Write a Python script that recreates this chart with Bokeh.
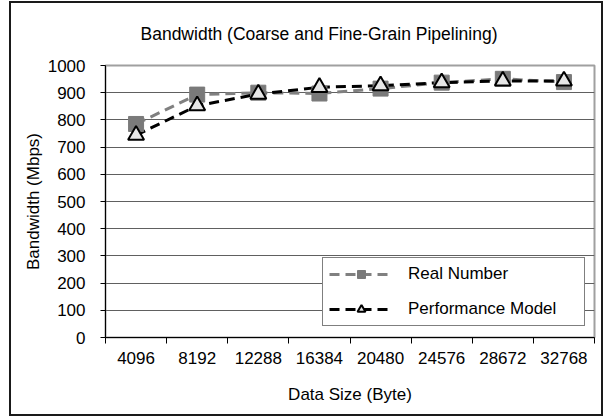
from bokeh.plotting import figure
from bokeh.models import FixedTicker, NumeralTickFormatter
from bokeh.embed import file_html
from bokeh.resources import INLINE

# ---- data ----
data_sizes = [4096, 8192, 12288, 16384, 20480, 24576, 28672, 32768]
real_number = [785, 893, 900, 897, 915, 937, 951, 939]
performance_model = [744, 852, 895, 920, 926, 937, 943, 943]
y_ticks = [0, 100, 200, 300, 400, 500, 600, 700, 800, 900, 1000]

title_text = "Bandwidth (Coarse and Fine-Grain Pipelining)"
x_label = "Data Size (Byte)"
y_label = "Bandwidth (Mbps)"

FONT = "Liberation Sans"
FS = "17px"

step = data_sizes[1] - data_sizes[0]
boundaries = [s - step / 2 for s in data_sizes] + [data_sizes[-1] + step / 2]

p = figure(width=594, height=415, output_backend="svg", toolbar_location=None,
           x_range=(boundaries[0], boundaries[-1]), y_range=(y_ticks[0], y_ticks[-1]),
           min_border_left=94, min_border_right=11, min_border_top=62,
           min_border_bottom=81, title=title_text)
p.margin = (1, 0, 0, 9)
p.styles = {"border": "2px solid #1a1a1a"}
p.background_fill_color = "white"
p.border_fill_color = "white"

p.title.align = "left"
p.title.vertical_align = "top"
p.title.offset = 35
p.title.standoff = 40
p.title.text_font = FONT
p.title.text_font_size = "17.5px"
p.title.text_font_style = "normal"
p.title.text_color = "black"

p.outline_line_color = "#a0a0a0"
p.outline_line_width = 2

# x axis
xa = p.xaxis[0]
xa.ticker = FixedTicker(ticks=data_sizes, minor_ticks=boundaries)
xa.formatter = NumeralTickFormatter(format="0")
xa.major_tick_in = 0
xa.major_tick_out = 0
xa.minor_tick_in = 0
xa.minor_tick_out = 6
xa.minor_tick_line_color = "black"
xa.axis_line_color = "black"
xa.major_label_standoff = 8
xa.major_label_text_font = FONT
xa.major_label_text_font_size = FS
xa.major_label_text_color = "black"
xa.axis_label = x_label
xa.axis_label_standoff = 18
xa.axis_label_text_font = FONT
xa.axis_label_text_font_size = FS
xa.axis_label_text_font_style = "normal"
xa.axis_label_text_color = "black"

# y axis
ya = p.yaxis[0]
ya.ticker = FixedTicker(ticks=y_ticks)
ya.major_tick_in = 0
ya.major_tick_out = 5
ya.minor_tick_line_color = None
ya.major_tick_line_color = "black"
ya.axis_line_color = "black"
ya.major_label_standoff = 15
ya.major_label_text_font = FONT
ya.major_label_text_font_size = FS
ya.major_label_text_color = "black"
ya.axis_label = y_label
ya.axis_label_standoff = 2
ya.axis_label_text_font = FONT
ya.axis_label_text_font_size = FS
ya.axis_label_text_font_style = "normal"
ya.axis_label_text_color = "black"

p.xgrid.visible = False
p.ygrid.grid_line_color = "#606060"
p.ygrid.grid_line_width = 1

p.line(data_sizes, real_number, line_color="#808080", line_width=3,
       line_dash="10 6", legend_label="Real Number")
p.line(data_sizes, performance_model, line_color="black", line_width=3,
       line_dash="10 6", legend_label="Performance Model")
p.scatter(data_sizes, real_number, marker="square", size=15,
          fill_color="#7a7a7a", line_color="#7a7a7a", legend_label="Real Number")
p.scatter(data_sizes, performance_model, marker="triangle", size=16,
          fill_color="#e6e6e6", line_color="black", line_width=2,
          legend_label="Performance Model")

lg = p.legend[0]
lg.location = (217, 11)
lg.border_line_color = "black"
lg.border_line_width = 1
lg.background_fill_color = "white"
lg.background_fill_alpha = 1
lg.label_text_font = FONT
lg.label_text_font_size = FS
lg.label_text_color = "black"
lg.glyph_width = 64
lg.glyph_height = 20
lg.label_height = 20
lg.label_standoff = 15
lg.label_width = 170
lg.padding = 6
lg.spacing = 15
lg.margin = 0

open("out.html", "w").write(file_html(p, INLINE))
